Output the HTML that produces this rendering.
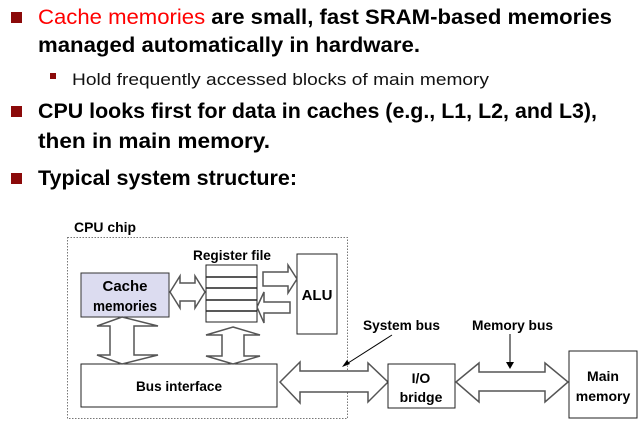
<!DOCTYPE html>
<html><head><meta charset="utf-8"><style>
html,body{margin:0;padding:0;background:#fff;}
svg{display:block;}
.h{font-family:"Liberation Sans",sans-serif;font-weight:bold;font-size:21px;fill:#000;}
.d{font-family:"Liberation Sans",sans-serif;font-weight:bold;font-size:14px;fill:#000;}
.ar{fill:#fff;stroke:#555;stroke-width:1.5;}
</style></head><body>
<svg width="643" height="423" viewBox="0 0 643 423" xmlns="http://www.w3.org/2000/svg">
<rect x="11" y="12" width="11" height="11" fill="#8b0a0a"/>
<text class="h" x="38" y="24" textLength="574" lengthAdjust="spacingAndGlyphs"><tspan fill="#ff0000" style="font-weight:normal">Cache memories</tspan> are small, fast SRAM-based memories</text>
<text class="h" x="38" y="52" textLength="382" lengthAdjust="spacingAndGlyphs">managed automatically in hardware.</text>
<rect x="50" y="73" width="6" height="6" fill="#8b0a0a"/>
<text x="72" y="85" textLength="417" lengthAdjust="spacingAndGlyphs" style="font-family:'Liberation Sans',sans-serif;font-size:17px;fill:#111">Hold frequently accessed blocks of main memory</text>
<rect x="11" y="106" width="11" height="11" fill="#8b0a0a"/>
<text class="h" x="38" y="118" textLength="559" lengthAdjust="spacingAndGlyphs">CPU looks first for data in caches (e.g., L1, L2, and L3),</text>
<text class="h" x="38" y="148" textLength="232" lengthAdjust="spacingAndGlyphs">then in main memory.</text>
<rect x="11" y="173" width="11" height="11" fill="#8b0a0a"/>
<text class="h" x="38" y="185" textLength="259" lengthAdjust="spacingAndGlyphs">Typical system structure:</text>

<text class="d" x="74" y="232" textLength="62" lengthAdjust="spacingAndGlyphs">CPU chip</text>
<rect x="67.5" y="237.5" width="280" height="181" fill="none" stroke="#777" stroke-dasharray="1.5,1.5"/>

<rect x="81" y="273" width="88" height="44" fill="#dcdcf0" stroke="#333" stroke-width="1"/>
<text class="d" x="125" y="291" text-anchor="middle" style="font-size:15px">Cache</text>
<text class="d" x="125" y="311" text-anchor="middle" style="font-size:15px" textLength="64" lengthAdjust="spacingAndGlyphs">memories</text>

<text class="d" x="232" y="260" text-anchor="middle" textLength="78" lengthAdjust="spacingAndGlyphs">Register file</text>
<rect x="206" y="265" width="51" height="57" fill="#fff" stroke="#222"/>
<g stroke="#222" stroke-width="1.5"><line x1="206" y1="277" x2="257" y2="277"/><line x1="206" y1="288" x2="257" y2="288"/><line x1="206" y1="300" x2="257" y2="300"/><line x1="206" y1="311" x2="257" y2="311"/></g>

<rect x="297" y="254" width="40" height="80" fill="#fff" stroke="#222"/>
<text class="d" x="317" y="300" text-anchor="middle" style="font-size:15px">ALU</text>

<rect x="81" y="364" width="196" height="43" fill="#fff" stroke="#222"/>
<text class="d" x="179" y="391" text-anchor="middle" textLength="86" lengthAdjust="spacingAndGlyphs">Bus interface</text>

<polygon class="ar" points="170,292 180,276 180,283 195,283 195,276 205,292 195,308 195,301 180,301 180,308"/>
<polygon class="ar" points="263,272 288,272 288,265 297,279 288,293 288,286 263,286"/>
<polygon class="ar" points="290,302 264,302 264,292 257,307 264,323 264,313 290,313"/>
<polygon class="ar" points="122,317 158,326 134,326 134,355 158,355 122,364 97,355 110,355 110,326 97,326"/>
<polygon class="ar" points="233,327 260,335 244,335 244,356 260,356 233,364 206,356 222,356 222,335 206,335"/>

<polygon class="ar" points="280,382 300,362 300,371 368,371 368,363 388,382 368,402 368,392 300,392 300,403"/>
<rect x="388" y="364" width="67" height="44" fill="#fff" stroke="#222"/>
<text class="d" x="421" y="383" text-anchor="middle">I/O</text>
<text class="d" x="421" y="402" text-anchor="middle">bridge</text>

<polygon class="ar" points="456,382 479,363 479,372 545,372 545,363 568,382 545,402 545,391 479,391 479,402"/>
<rect x="569" y="351" width="68" height="67" fill="#fff" stroke="#222"/>
<text class="d" x="603" y="381" text-anchor="middle">Main</text>
<text class="d" x="603" y="401" text-anchor="middle">memory</text>

<text class="d" x="363" y="330" textLength="77" lengthAdjust="spacingAndGlyphs">System bus</text>
<line x1="392" y1="335" x2="345" y2="365" stroke="#000" stroke-width="1"/>
<polygon points="342,367 347,360 350,364" fill="#000"/>
<text class="d" x="472" y="330" textLength="81" lengthAdjust="spacingAndGlyphs">Memory bus</text>
<line x1="510" y1="334" x2="510" y2="363" stroke="#000" stroke-width="1"/>
<polygon points="506,362 514,362 510,369" fill="#000"/>
</svg>
</body></html>
